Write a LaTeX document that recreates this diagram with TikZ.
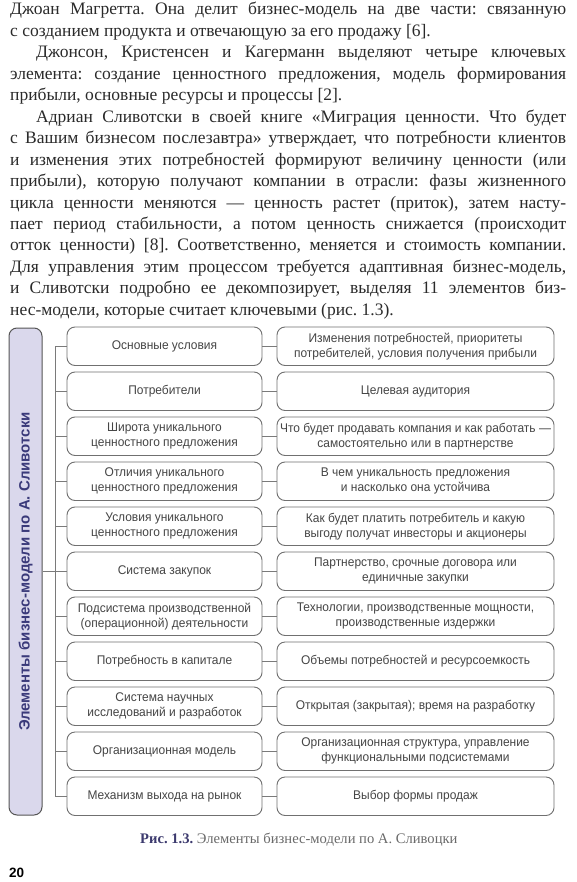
\documentclass[tikz,border=0pt]{standalone}
\usepackage{fontspec}
\setmainfont{Liberation Serif}
\setsansfont{Liberation Sans}
\newfontfamily\boxsans[FakeStretch=0.95]{Liberation Sans}
\definecolor{bodygray}{HTML}{2A2A2A}
\definecolor{capgray}{HTML}{6A6A6A}
\definecolor{capnavy}{HTML}{3C3A6E}
\definecolor{boxgray}{HTML}{707070}
\definecolor{boxtext}{HTML}{454545}
\definecolor{vfill}{HTML}{DAD8EC}
\definecolor{vborder}{HTML}{555555}
\definecolor{vtext}{HTML}{3A3A7A}
\definecolor{linegray}{HTML}{7A7A7A}
\frenchspacing
\begin{document}
\begin{tikzpicture}[x=1pt,y=-1pt,
  bodyline/.style={anchor=base west, inner sep=0pt, font=\frenchspacing\fontsize{17.5}{21}\selectfont, text=bodygray},
  lbox/.style={draw=boxgray, line width=0.9pt, rounded corners=8pt, minimum width=195pt, minimum height=38.5pt, align=center, font=\boxsans\fontsize{12.6}{15}\selectfont, text=boxtext, inner sep=0pt},
  rbox/.style={lbox, minimum width=277pt},
  conn/.style={draw=linegray, line width=0.9pt}
]
\useasboundingbox (0,0) rectangle (576,882);
\fill[white] (0,0) rectangle (576,882);

% body text
\node[bodyline] (t1) at (10,15) {\makebox[556pt][s]{Джоан Магретта. Она делит бизнес-модель на две части: связанную}};
\node[bodyline] (t2) at (10,36.45) {с созданием продукта и отвечающую за его продажу [6].};
\node[bodyline] (t3) at (36,57.9) {\makebox[530pt][s]{Джонсон, Кристенсен и Кагерманн выделяют четыре ключевых}};
\node[bodyline] (t4) at (10,79.35) {\makebox[556pt][s]{элемента: создание ценностного предложения, модель формирования}};
\node[bodyline] (t5) at (10,100.8) {прибыли, основные ресурсы и процессы [2].};
\node[bodyline] (t6) at (36,122.25) {\makebox[530pt][s]{Адриан Сливотски в своей книге «Миграция ценности. Что будет}};
\node[bodyline] (t7) at (10,143.7) {\makebox[556pt][s]{с Вашим бизнесом послезавтра» утверждает, что потребности клиентов}};
\node[bodyline] (t8) at (10,165.15) {\makebox[556pt][s]{и изменения этих потребностей формируют величину ценности (или}};
\node[bodyline] (t9) at (10,186.6) {\makebox[556pt][s]{прибыли), которую получают компании в отрасли: фазы жизненного}};
\node[bodyline] (t10) at (10,208.05) {\makebox[556pt][s]{цикла ценности меняются — ценность растет (приток), затем насту-}};
\node[bodyline] (t11) at (10,229.5) {\makebox[556pt][s]{пает период стабильности, а потом ценность снижается (происходит}};
\node[bodyline] (t12) at (10,250.95) {\makebox[556pt][s]{отток ценности) [8]. Соответственно, меняется и стоимость компании.}};
\node[bodyline] (t13) at (10,272.4) {\makebox[556pt][s]{Для управления этим процессом требуется адаптивная бизнес-модель,}};
\node[bodyline] (t14) at (10,293.85) {\makebox[556pt][s]{и Сливотски подробно ее декомпозирует, выделяя 11 элементов биз-}};
\node[bodyline] (t15) at (10,315.3) {нес-модели, которые считает ключевыми (рис. 1.3).};

% vertical title box
\node[draw=vborder, fill=vfill, line width=1pt, rounded corners=8pt, rotate=90,
      minimum width=487pt, minimum height=33pt, inner sep=0pt,
      font=\sffamily\bfseries\fontsize{15}{18}\selectfont, text=vtext] (V) at (25.5,571.5)
      {Элементы бизнес-модели по А. Сливотски};

% left boxes
\node[lbox] (L0) at (164.5,346.25) {Основные условия};
\node[lbox] (L1) at (164.5,391.25) {Потребители};
\node[lbox] (L2) at (164.5,436.25) {Широта уникального\\ценностного предложения};
\node[lbox] (L3) at (164.5,481.25) {Отличия уникального\\ценностного предложения};
\node[lbox] (L4) at (164.5,526.25) {Условия уникального\\ценностного предложения};
\node[lbox] (L5) at (164.5,571.25) {Система закупок};
\node[lbox] (L6) at (164.5,616.25) {Подсистема производственной\\(операционной) деятельности};
\node[lbox] (L7) at (164.5,661.25) {Потребность в капитале};
\node[lbox] (L8) at (164.5,706.25) {Система научных\\исследований и разработок};
\node[lbox] (L9) at (164.5,751.25) {Организационная модель};
\node[lbox] (L10) at (164.5,796.25) {Механизм выхода на рынок};

% right boxes
\node[rbox] (R0) at (415.5,346.25) {Изменения потребностей, приоритеты\\потребителей, условия получения прибыли};
\node[rbox] (R1) at (415.5,391.25) {Целевая аудитория};
\node[rbox] (R2) at (415.5,436.25) {Что будет продавать компания и как работать —\\самостоятельно или в партнерстве};
\node[rbox] (R3) at (415.5,481.25) {В чем уникальность предложения\\и насколько она устойчива};
\node[rbox] (R4) at (415.5,526.25) {Как будет платить потребитель и какую\\выгоду получат инвесторы и акционеры};
\node[rbox] (R5) at (415.5,571.25) {Партнерство, срочные договора или\\единичные закупки};
\node[rbox] (R6) at (415.5,616.25) {Технологии, производственные мощности,\\производственные издержки};
\node[rbox] (R7) at (415.5,661.25) {Объемы потребностей и ресурсоемкость};
\node[rbox] (R8) at (415.5,706.25) {Открытая (закрытая); время на разработку};
\node[rbox] (R9) at (415.5,751.25) {Организационная структура, управление\\функциональными подсистемами};
\node[rbox] (R10) at (415.5,796.25) {Выбор формы продаж};

% connectors
\coordinate (bus) at (55,571.25);
\draw[conn] (bus |- L0.west) -- (bus |- L10.west);
\draw[conn] (V.south) -- (V.south -| bus);
\foreach \i in {0,...,10} {
  \draw[conn] (bus |- L\i.west) -- (L\i.west);
  \draw[conn] (L\i.east) -- (R\i.west);
}

% caption and page number
\node[anchor=base west, inner sep=0pt, font=\fontsize{14.6}{18}\selectfont, text=capgray] (cap) at (140,843)
  {\textcolor{capnavy}{\bfseries Рис. 1.3.} Элементы бизнес-модели по А. Сливоцки};
\node[anchor=base west, inner sep=0pt, font=\sffamily\bfseries\fontsize{13.5}{15}\selectfont, text=black] (pg) at (9,877) {20};
\end{tikzpicture}
\end{document}
